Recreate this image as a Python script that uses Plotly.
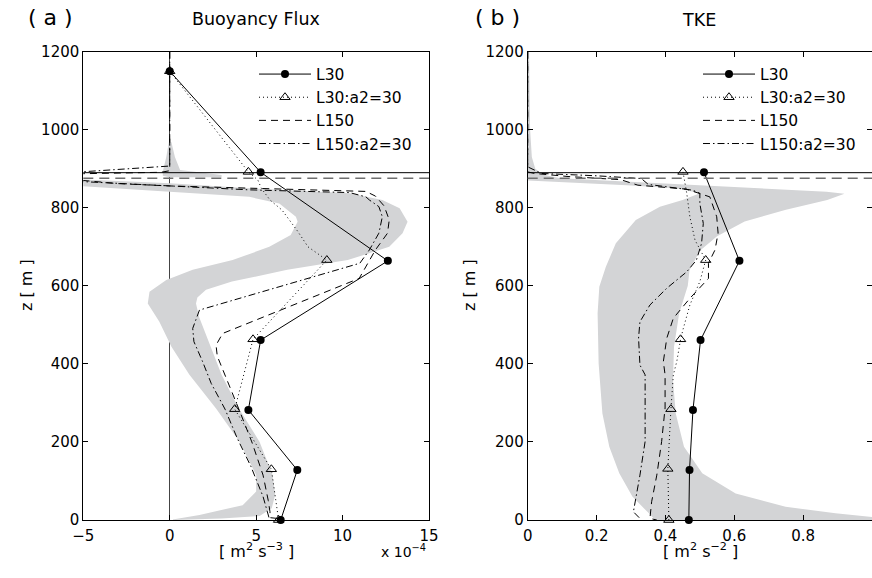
import plotly.graph_objects as go

FONT = "DejaVu Sans"
GRAY = "#d3d4d6"

# ---------------- Panel (a): Buoyancy flux (x 1e-4 m2 s-3) ----------------
a_z_L30 = [0, 128, 282, 461, 664, 891, 1150]
a_x_L30 = [6.42, 7.38, 4.55, 5.26, 12.62, 5.26, 0.0]

a_z_L30a2_mk = [0, 130, 284, 463, 666, 892, 1150]
a_x_L30a2_mk = [6.3, 5.88, 3.76, 4.82, 9.09, 4.55, 0.0]
a_z_L30a2 = [0, 130, 284, 463, 666, 700, 740, 794, 820, 850, 871, 892, 1150]
a_x_L30a2 = [6.3, 5.88, 3.76, 4.82, 9.09, 8.0, 7.4, 6.5, 5.8, 5.3, 5.1, 4.55, 0.0]

a_z_L150 = [1200, 895, 891, 887, 872, 862, 856, 850, 846, 842, 830, 805, 769, 735, 692, 649, 619,
            478, 448, 420, 372, 284, 200, 115, 50, 21, 6, 4]
a_x_L150 = [0, 0, -0.5, -5.5, -5.5, -3, 0, 4.6, 8, 11.35, 11.9, 12.4, 12.7, 12.6, 11.9, 11.35, 10.96,
            3.06, 2.68, 2.75, 3.2, 4.0, 4.75, 5.4, 5.7, 5.8, 5.8, 6.24]

a_z_L150a2 = [1200, 907, 891, 878, 867, 856, 846, 839, 828, 820, 803, 777, 735, 692, 658,
              538, 491, 457, 406, 350, 284, 210, 137, 60, 17, 5]
a_x_L150a2 = [0, 0, -5.5, -5.5, -5, 0, 4.6, 10.4, 11.35, 11.55, 12.1, 12.3, 12.1, 11.55, 11.0,
              1.72, 1.33, 1.4, 1.9, 2.4, 3.2, 3.9, 4.7, 5.4, 5.7, 5.75]

# ensemble spread (gray band): upper/right edge and lower/left edge, both bottom -> top
a_band_hi_z = [0, 4, 10, 30, 64, 115, 200, 286, 372, 450, 520, 555, 570, 590, 611, 641, 666, 700,
               735, 764, 799, 820, 837, 850, 863, 873]
a_band_hi_x = [0.0, 3.0, 5.2, 5.9, 6.1, 5.95, 5.2, 4.0, 3.0, 2.3, 1.7, 1.52, 1.6, 2.1, 3.6, 6.8, 10.3, 12.7,
               13.47, 13.76, 13.3, 12.3, 10.4, 4.6, 0.0, -5.2]
a_band_lo_z = [0, 13, 38, 73, 115, 201, 286, 372, 444, 508, 555, 585, 615, 641, 666, 700, 730, 764,
               777, 811, 828, 841, 856]
a_band_lo_x = [0.0, 1.72, 4.22, 5.0, 5.0, 4.03, 2.68, 1.14, 0.1, -0.6, -1.27, -1.17, -0.2, 1.33, 3.64, 5.76,
               7.0, 7.4, 7.3, 6.34, 4.6, 0.0, -5.2]
a_spike_z = [882, 893, 930, 968, 968, 930, 897, 884, 878, 878]
a_spike_x = [-0.4, -0.4, -0.2, -0.05, 0.1, 0.3, 0.6, 3.0, 3.0, 0.0]

# ---------------- Panel (b): TKE (m2 s-2) ----------------
b_z_L30 = [0, 128, 282, 461, 664, 891]
b_x_L30 = [0.468, 0.47, 0.48, 0.502, 0.615, 0.512]

b_z_L30a2_mk = [0, 131, 284, 463, 666, 892]
b_x_L30a2_mk = [0.41, 0.407, 0.416, 0.444, 0.517, 0.451]
b_z_L30a2 = [0, 131, 284, 372, 406, 463, 491, 551, 611, 666, 717, 777, 837, 892]
b_x_L30a2 = [0.41, 0.407, 0.416, 0.423, 0.433, 0.444, 0.452, 0.471, 0.5, 0.517, 0.486, 0.471, 0.462, 0.451]

b_z_L150 = [1200, 892, 888, 880, 872, 858, 848, 837, 828, 777, 735, 692, 658, 619, 568, 517, 466,
            406, 372, 287, 201, 115, 47, 4, 0]
b_x_L150 = [0, 0, 0.02, 0.12, 0.27, 0.32, 0.46, 0.5, 0.529, 0.549, 0.553, 0.544, 0.525, 0.525, 0.471,
            0.423, 0.404, 0.394, 0.399, 0.399, 0.389, 0.375, 0.36, 0.355, 0.375]

b_z_L150a2 = [1200, 905, 888, 882, 875, 860, 845, 837, 811, 760, 709, 666, 636, 594, 551, 508, 466,
              397, 372, 287, 201, 115, 38, 21, 4]
b_x_L150a2 = [0, 0, 0.04, 0.2, 0.33, 0.35, 0.48, 0.5, 0.5, 0.51, 0.505, 0.49, 0.462, 0.404, 0.355,
              0.326, 0.322, 0.326, 0.341, 0.342, 0.341, 0.326, 0.312, 0.307, 0.326]

b_band_hi_z = [0, 0, 6, 17, 34, 68, 120, 188, 273, 359, 444, 530, 600, 640, 690, 727, 765, 795, 820,
               836, 841, 854, 867, 876, 885, 900, 930, 1000, 1200]
b_band_hi_x = [0.37, 1.02, 1.02, 0.894, 0.749, 0.604, 0.507, 0.454, 0.43, 0.422, 0.425, 0.44, 0.465,
               0.47, 0.5, 0.55, 0.63, 0.75, 0.87, 0.92, 0.868, 0.578, 0.288, 0.095, 0.045, 0.022,
               0.012, 0.007, 0.004]
b_band_lo_z = [0, 17, 60, 120, 188, 273, 401, 530, 598, 649, 709, 769, 803, 820, 837, 850, 858, 870, 1200]
b_band_lo_x = [0.37, 0.352, 0.304, 0.266, 0.237, 0.217, 0.206, 0.203, 0.208, 0.227, 0.256, 0.314,
               0.384, 0.45, 0.5, 0.433, 0.288, 0.0, 0.0]

# boundary-layer heights (horizontal reference lines)
h_L30 = 890
h_L150 = 876

names = ["L30", "L30:a2=30", "L150", "L150:a2=30"]

fig = go.Figure()


def band(hx, hz, lx, lz, xa, ya):
    fig.add_trace(go.Scatter(x=hx + lx[::-1], y=hz + lz[::-1], fill="toself", fillcolor=GRAY,
                             line=dict(width=0), mode="lines", hoverinfo="skip", showlegend=False,
                             xaxis=xa, yaxis=ya))


band(a_band_hi_x, a_band_hi_z, a_band_lo_x, a_band_lo_z, "x", "y")
fig.add_trace(go.Scatter(x=a_spike_x, y=a_spike_z, fill="toself", fillcolor=GRAY, line=dict(width=0),
                         mode="lines", showlegend=False, xaxis="x", yaxis="y"))
band(b_band_hi_x, b_band_hi_z, b_band_lo_x, b_band_lo_z, "x2", "y2")

DOT = "1px,3px"
DASH = "7px,5px"
DASHDOT = "7px,3px,1.5px,3px"

mk_circle = dict(symbol="circle", size=8, color="black")
mk_tri = dict(symbol="triangle-up-open", size=9, color="black", line=dict(width=1, color="black"))


def panel(xa, ya, leg, d):
    (x30, z30, x30a2, z30a2, x30a2m, z30a2m, x150, z150, x150a2, z150a2) = d
    ln = dict(color="black", width=1)
    fig.add_trace(go.Scatter(x=x150, y=z150, mode="lines", line=dict(ln, dash=DASH),
                             showlegend=False, xaxis=xa, yaxis=ya))
    fig.add_trace(go.Scatter(x=x150a2, y=z150a2, mode="lines", line=dict(ln, dash=DASHDOT),
                             showlegend=False, xaxis=xa, yaxis=ya))
    fig.add_trace(go.Scatter(x=x30a2, y=z30a2, mode="lines", line=dict(ln, dash=DOT),
                             showlegend=False, xaxis=xa, yaxis=ya))
    fig.add_trace(go.Scatter(x=x30a2m, y=z30a2m, mode="markers", marker=mk_tri, cliponaxis=False,
                             showlegend=False, xaxis=xa, yaxis=ya))
    fig.add_trace(go.Scatter(x=x30, y=z30, mode="lines+markers", line=ln, marker=mk_circle,
                             cliponaxis=False, showlegend=False, xaxis=xa, yaxis=ya))
    # legend entries
    styles = [(dict(ln), mk_circle, "lines+markers"), (dict(ln, dash=DOT), mk_tri, "lines+markers"),
              (dict(ln, dash=DASH), None, "lines"), (dict(ln, dash=DASHDOT), None, "lines")]
    for nm, (l, m, md) in zip(names, styles):
        kw = dict(marker=m) if m else {}
        fig.add_trace(go.Scatter(x=[None], y=[None], name=nm, mode=md, line=l, legend=leg,
                                 xaxis=xa, yaxis=ya, **kw))


panel("x", "y", "legend", (a_x_L30, a_z_L30, a_x_L30a2, a_z_L30a2, a_x_L30a2_mk, a_z_L30a2_mk,
                          a_x_L150, a_z_L150, a_x_L150a2, a_z_L150a2))
panel("x2", "y2", "legend2", (b_x_L30, b_z_L30, b_x_L30a2, b_z_L30a2, b_x_L30a2_mk, b_z_L30a2_mk,
                             b_x_L150, b_z_L150, b_x_L150a2, b_z_L150a2))

ax = dict(showline=True, linecolor="black", linewidth=1, mirror="allticks", ticks="inside",
          ticklen=5, tickcolor="black", tickwidth=1, showgrid=False, zeroline=False,
          tickfont=dict(family=FONT, size=15, color="black"))

W, H = 872, 578
ydom = [1 - 520 / H, 1 - 51.7 / H]

legfont = dict(family=FONT, size=15.5, color="black")
legcommon = dict(xanchor="left", yanchor="top", bgcolor="rgba(0,0,0,0)", font=legfont,
                 tracegroupgap=0, itemwidth=52)
fig.update_layout(
    width=W, height=H, margin=dict(l=0, r=0, t=0, b=0, autoexpand=False),
    paper_bgcolor="white", plot_bgcolor="white",
    xaxis=dict(ax, domain=[83.3 / W, 429 / W], range=[-5, 15], tick0=-5, dtick=5,
               zeroline=True, zerolinecolor="#444", zerolinewidth=1, ticklabelstandoff=2),
    yaxis=dict(ax, domain=ydom, range=[0, 1200], dtick=200, anchor="x"),
    xaxis2=dict(ax, domain=[527.7 / W, 1.0], range=[0, 1.0], dtick=0.2, anchor="y2",
                ticklabelstandoff=2),
    yaxis2=dict(ax, domain=ydom, range=[0, 1200], dtick=200, anchor="x2"),
    legend=dict(legcommon, x=254 / W, y=1 - 57.5 / H),
    legend2=dict(legcommon, x=698 / W, y=1 - 57.5 / H),
    showlegend=True,
)

for xr, yr in (("x domain", "y"), ("x2 domain", "y2")):
    fig.add_shape(type="line", xref=xr, yref=yr, x0=0, x1=1, y0=h_L30, y1=h_L30,
                  line=dict(color="black", width=1))
    fig.add_shape(type="line", xref=xr, yref=yr, x0=0, x1=1, y0=h_L150, y1=h_L150,
                  line=dict(color="#6e6e6e", width=1.5, dash="10px,6px"))


def ann(text, x, y, size, angle=0):
    fig.add_annotation(text=text, x=x / W, y=1 - y / H, xref="paper", yref="paper", showarrow=False,
                       textangle=angle, font=dict(family=FONT, size=size, color="black"),
                       xanchor="center", yanchor="middle")


ann("( a )", 50, 17, 22)
ann("Buoyancy Flux", 256, 19, 17.5)
ann("( b )", 497, 17, 22)
ann("TKE", 699, 20, 17.5)
ann("z [ m ]", 26, 285, 16, -90)
ann("z [ m ]", 469, 285, 16, -90)
ann("[ m<sup>2</sup> s<sup>−3</sup> ]", 256, 550, 16)
ann("[ m<sup>2</sup> s<sup>−2</sup> ]", 700, 550, 16)
ann("x 10<sup>−4</sup>", 403, 551, 14)

fig.write_html("out.html")
